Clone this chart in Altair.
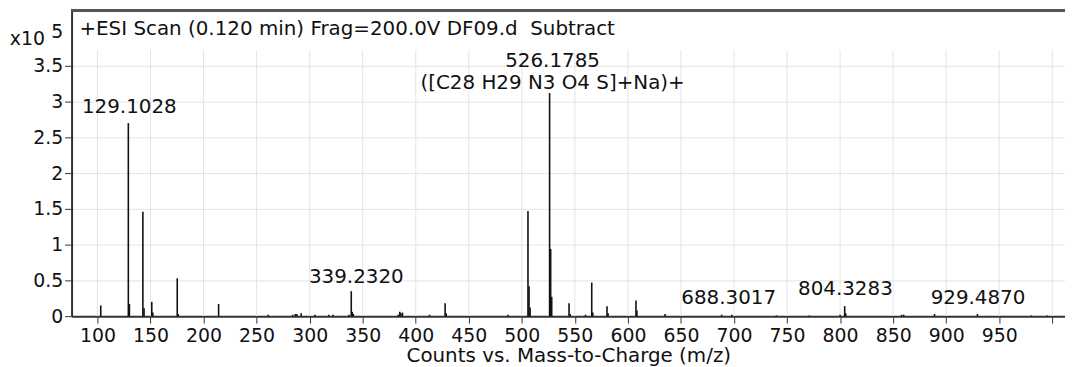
import altair as alt
import pandas as pd

# Peaks (m/z, counts x10^5)
mz = [103.1, 129.1028, 130.1, 142.8, 143.9, 151.2, 152.2, 175.2, 176.1, 214.2,
      261.0, 284.0, 286.5, 288.0, 292.0, 305.0, 318.0, 322.0, 337.0, 339.2320,
      340.2, 341.2, 383.5, 385.0, 386.0, 387.5, 413.0, 427.7, 428.7, 487.0,
      505.8, 506.8, 507.8, 526.1785, 527.18, 528.18, 544.5, 545.5, 560.0, 565.9,
      566.9, 580.3, 581.3, 607.6, 608.5, 635.0, 688.3017, 698.0, 740.0, 771.0,
      800.0, 804.3283, 805.3, 858.0, 860.0, 889.0, 929.4870, 980.0, 995.0]
counts = [0.15, 2.70, 0.17, 1.46, 0.11, 0.20, 0.05, 0.53, 0.03, 0.17,
          0.02, 0.02, 0.03, 0.03, 0.04, 0.02, 0.02, 0.02, 0.02, 0.35,
          0.06, 0.03, 0.02, 0.06, 0.04, 0.05, 0.02, 0.18, 0.04, 0.02,
          1.47, 0.42, 0.12, 3.12, 0.94, 0.27, 0.18, 0.03, 0.02, 0.47,
          0.05, 0.14, 0.04, 0.22, 0.08, 0.03, 0.02, 0.02, 0.01, 0.01,
          0.02, 0.14, 0.04, 0.02, 0.02, 0.03, 0.03, 0.01, 0.01]

# Peak annotations
label_text = ["129.1028", "339.2320", "526.1785", "([C28 H29 N3 O4 S]+Na)+",
              "688.3017", "804.3283", "929.4870"]
label_x = [130.0, 344.0, 529.0, 529.0, 695.0, 805.0, 930.0]
label_y = [2.93, 0.55, 3.57, 3.26, 0.26, 0.375, 0.26]

# Header texts
header_text = ["+ESI Scan (0.120 min) Frag=200.0V DF09.d\u00a0 Subtract"]
header_x = [83.0]
header_y = [4.01]
exp_text = ["x10", "5"]
exp_x = [34.0, 62.0]
exp_y = [3.88, 3.97]

x_ticks = [100, 150, 200, 250, 300, 350, 400, 450, 500, 550, 600, 650, 700,
           750, 800, 850, 900, 950, 1000]
y_ticks = [0, 0.5, 1, 1.5, 2, 2.5, 3, 3.5]

X_MIN, X_MAX = 75.6, 1012.0
Y_MAX = 4.28
GRID_TOP = 3.72
FONT = "DejaVu Sans"
FS = 19
FS_TXT = 20
TXT = "#111111"

peaks = pd.DataFrame({"mz": mz, "counts": counts})
labels = pd.DataFrame({"t": label_text, "x": label_x, "y": label_y})
header = pd.DataFrame({"t": header_text, "x": header_x, "y": header_y})
expo = pd.DataFrame({"t": exp_text, "x": exp_x, "y": exp_y})
grid = pd.DataFrame({"g": x_ticks})

xs = alt.Scale(domain=[X_MIN, X_MAX], nice=False, zero=False)
ys = alt.Scale(domain=[0, Y_MAX], nice=False)

vgrid = alt.Chart(grid).mark_rule(color="#e4e4e4", strokeWidth=1).encode(
    x=alt.X("g:Q", scale=xs),
    y=alt.datum(0, scale=ys),
    y2=alt.datum(GRID_TOP),
)

bars = alt.Chart(peaks).mark_rule(color="#111111", strokeWidth=1.6).encode(
    x=alt.X("mz:Q", scale=xs,
            axis=alt.Axis(values=x_ticks, title="Counts vs. Mass-to-Charge (m/z)",
                          labelExpr="datum.value == 1000 ? '' : datum.label",
                          grid=False, tickSize=7, labelPadding=4,
                          titlePadding=0, domainColor="#333333",
                          domainWidth=2, tickColor="#333333",
                          labelFont=FONT, labelFontSize=FS, labelColor=TXT,
                          titleFont=FONT, titleFontSize=20, titleColor=TXT,
                          titleFontWeight="normal", labelFlush=False,
                          labelOverlap=False)),
    y=alt.Y("counts:Q", scale=ys,
            axis=alt.Axis(values=y_ticks, title=None, grid=True, format="~g",
                          gridColor="#e4e4e4", tickSize=7, labelPadding=2,
                          domainColor="#333333", domainWidth=2,
                          tickColor="#333333",
                          labelFont=FONT, labelFontSize=FS, labelColor=TXT,
                          labelFlush=False, labelOverlap=False)),
    y2=alt.datum(0),
)

top_border = alt.Chart(grid).mark_rule(color="#555555", strokeWidth=2).encode(
    y=alt.datum(Y_MAX, scale=ys),
)

ann = alt.Chart(labels).mark_text(font=FONT, fontSize=FS_TXT, color=TXT,
                                  align="center", baseline="middle").encode(
    x=alt.X("x:Q", scale=xs), y=alt.Y("y:Q", scale=ys), text="t:N")

hdr = alt.Chart(header).mark_text(font=FONT, fontSize=FS_TXT, color=TXT,
                                  align="left", baseline="middle").encode(
    x=alt.X("x:Q", scale=xs), y=alt.Y("y:Q", scale=ys), text="t:N")

ex = alt.Chart(expo).mark_text(font=FONT, fontSize=FS, color=TXT,
                               align="center", baseline="middle").encode(
    x=alt.X("x:Q", scale=xs), y=alt.Y("y:Q", scale=ys), text="t:N")

chart = alt.layer(vgrid, bars, top_border, ann, hdr, ex).properties(
    width=1000, height=308,
    autosize=alt.AutoSizeParams(type="none"),
    padding={"left": 64, "top": 1, "right": 0, "bottom": 51},
    background="white",
).configure_view(stroke=None)

chart.save("out.html", embed_options={"renderer": "svg", "actions": False})
